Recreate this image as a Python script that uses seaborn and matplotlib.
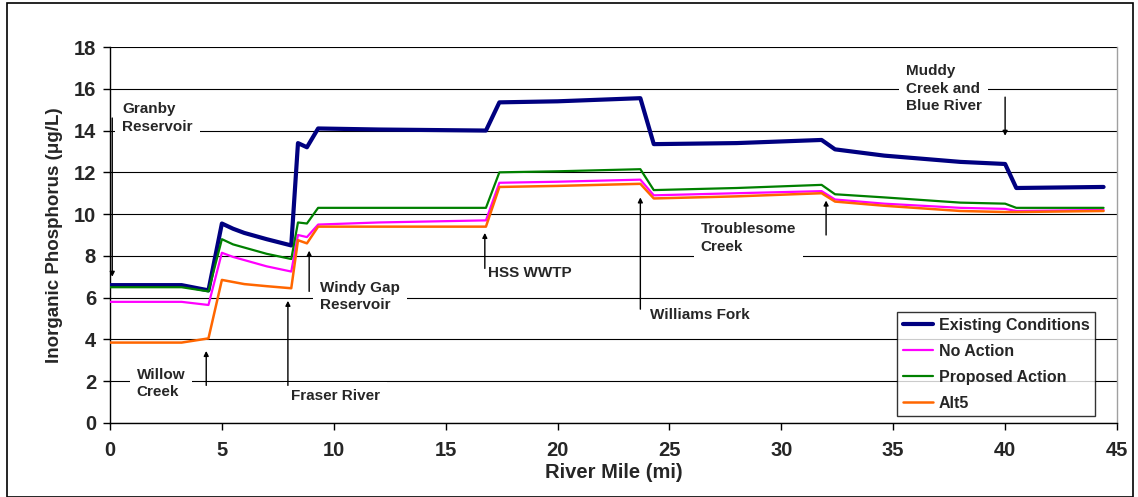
import matplotlib
matplotlib.use("Agg")
import matplotlib.pyplot as plt
import seaborn as sns
import pandas as pd
from matplotlib.patches import Rectangle

# ---- data ----
miles = [0, 3.2, 4.4, 5.0, 5.5, 6.0, 7.0, 8.1, 8.4, 8.8, 9.3, 12.0, 16.8, 17.4, 20.0, 23.7, 24.3, 28.0, 31.8, 32.4, 34.6, 38.0, 40.0, 40.5, 44.4]
existing = [6.6, 6.6, 6.35, 9.55, 9.3, 9.1, 8.8, 8.5, 13.4, 13.2, 14.1, 14.05, 14.0, 15.35, 15.4, 15.55, 13.35, 13.4, 13.55, 13.1, 12.8, 12.5, 12.4, 11.25, 11.3]
no_action = [5.8, 5.8, 5.65, 8.15, 7.95, 7.8, 7.5, 7.25, 9.0, 8.9, 9.5, 9.6, 9.7, 11.5, 11.55, 11.65, 10.9, 11.0, 11.1, 10.7, 10.5, 10.3, 10.25, 10.15, 10.2]
proposed = [6.5, 6.5, 6.3, 8.8, 8.55, 8.4, 8.1, 7.85, 9.6, 9.55, 10.3, 10.3, 10.3, 12.0, 12.05, 12.15, 11.15, 11.25, 11.4, 10.95, 10.8, 10.55, 10.5, 10.3, 10.3]
alt5 = [3.85, 3.85, 4.05, 6.85, 6.75, 6.65, 6.55, 6.45, 8.75, 8.6, 9.4, 9.4, 9.4, 11.3, 11.35, 11.45, 10.75, 10.85, 11.0, 10.6, 10.4, 10.15, 10.1, 10.1, 10.15]
series_names = ["Existing Conditions", "No Action", "Proposed Action", "Alt5"]
series_values = [existing, no_action, proposed, alt5]
x_ticks = [0, 5, 10, 15, 20, 25, 30, 35, 40, 45]
y_ticks = [0, 2, 4, 6, 8, 10, 12, 14, 16, 18]

# annotations: text, text pos, arrow start, arrow end
notes = [
    ("Granby\nReservoir", (0.55, 14.6), (0.1, 14.6), (0.1, 7.0)),
    ("Willow\nCreek", (1.2, 1.9), (4.3, 1.8), (4.3, 3.45)),
    ("Fraser River", (8.1, 1.3), (7.95, 1.8), (7.95, 5.85)),
    ("Windy Gap\nReservoir", (9.4, 6.05), (8.9, 6.3), (8.9, 8.25)),
    ("HSS WWTP", (16.9, 7.2), (16.75, 7.4), (16.75, 9.1)),
    ("Williams Fork", (24.15, 5.15), (23.7, 5.45), (23.7, 10.8)),
    ("Troublesome\nCreek", (26.4, 8.85), (32.0, 9.0), (32.0, 10.65)),
    ("Muddy\nCreek and\nBlue River", (35.55, 16.0), (40.0, 15.6), (40.0, 13.75)),
]

rows = []
for name, vals in zip(series_names, series_values):
    for m, v in zip(miles, vals):
        rows.append({"River Mile": m, "Value": v, "Series": name})
df = pd.DataFrame(rows)

sns.set_style("white")
plt.rcParams['font.family'] = ['Liberation Sans', 'DejaVu Sans']
plt.rcParams['font.weight'] = 'bold'

fig = plt.figure(figsize=(11.38, 4.97), dpi=100)
ax = fig.add_axes([110/1138, 74/497, 1007/1138, 376/497])

palette = {"Existing Conditions": "#000080", "No Action": "#FF00FF",
           "Proposed Action": "#008000", "Alt5": "#FF6600"}
sizes = {"Existing Conditions": 3.0, "No Action": 1.6, "Proposed Action": 1.6, "Alt5": 1.8}

sns.lineplot(data=df, x="River Mile", y="Value", hue="Series", size="Series",
             sizes=sizes, palette=palette, hue_order=series_names,
             size_order=series_names, ax=ax, estimator=None, sort=False, zorder=3)

ax.set_xlim(0, 45)
ax.set_ylim(0, 18)
ax.set_xticks(x_ticks)
ax.set_yticks(y_ticks)
ax.yaxis.grid(True, color="black", linewidth=0.8, zorder=0)
ax.xaxis.grid(False)
ax.set_axisbelow(True)
for s in ["left", "bottom"]:
    ax.spines[s].set_color("black")
    ax.spines[s].set_linewidth(1.0)
ax.spines["top"].set_visible(False)
ax.spines["right"].set_color("#a0a0a0")
ax.spines["right"].set_linewidth(1.0)
ax.tick_params(axis="both", which="major", direction="out", length=5, width=1,
               color="black", labelsize=14.5, bottom=True, left=True)
ax.tick_params(axis="x", pad=8)
ax.tick_params(axis="y", pad=5)
for lab in ax.get_xticklabels() + ax.get_yticklabels():
    lab.set_fontweight("bold")
ax.set_xlabel("River Mile (mi)", fontsize=14.5, fontweight="bold", labelpad=2)
ax.set_ylabel("Inorganic Phosphorus (\u03bcg/L)", fontsize=13.5, fontweight="bold", labelpad=8)

for text, tpos, a0, a1 in notes:
    ax.annotate("", xy=a1, xytext=a0,
                arrowprops=dict(arrowstyle="-|>", color="black", lw=1.0,
                                mutation_scale=7, shrinkA=0, shrinkB=0), zorder=4)
    ax.text(tpos[0], tpos[1], text, fontsize=11, fontweight="bold", ha="left", va="center",
            linespacing=1.3, zorder=2,
            bbox=dict(facecolor="white", edgecolor="none", pad=5))

leg = ax.legend(loc="lower right", bbox_to_anchor=(0.978, 0.018), frameon=True, fancybox=False,
                fontsize=11.5, handlelength=1.9, handletextpad=0.35, borderpad=0.35,
                labelspacing=0.68, borderaxespad=0.0)
leg.get_frame().set_edgecolor("black")
leg.get_frame().set_linewidth(1.0)
for t in leg.get_texts():
    t.set_fontweight("bold")

fig.patches.append(Rectangle((7/1138, 0), 1126/1138, 494/497, transform=fig.transFigure,
                             fill=False, edgecolor="black", linewidth=1.2))

fig.savefig("out.png", dpi=100)
